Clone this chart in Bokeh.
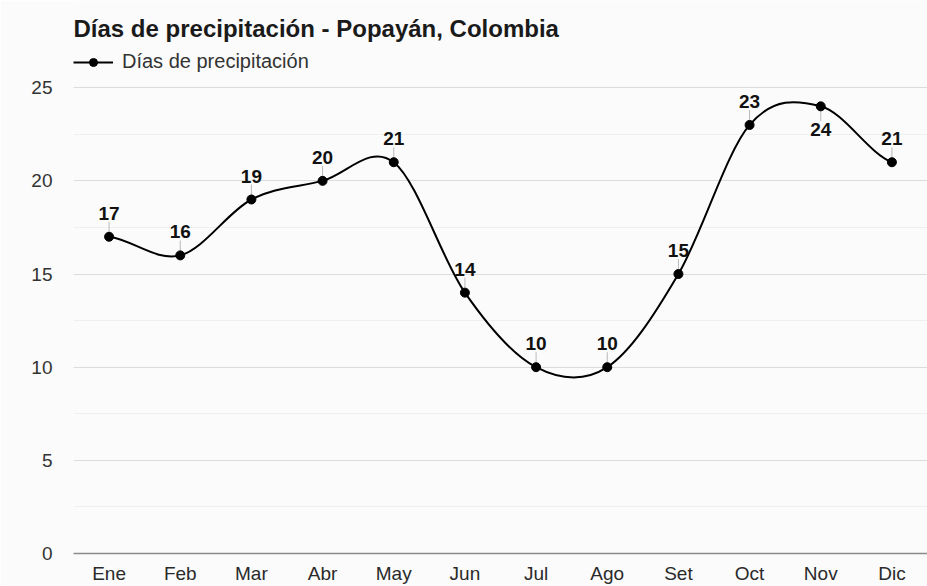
import numpy as np
from bokeh.plotting import figure
from bokeh.models import ColumnDataSource, FixedTicker, Legend, LegendItem, Range1d, Label
from bokeh.core.properties import value
from bokeh.embed import file_html
from bokeh.resources import INLINE

months = ["Ene", "Feb", "Mar", "Abr", "May", "Jun", "Jul", "Ago", "Set", "Oct", "Nov", "Dic"]
days = [17, 16, 19, 20, 21, 14, 10, 10, 15, 23, 24, 21]
y_ticks = [0, 5, 10, 15, 20, 25]
y_minor = [2.5, 7.5, 12.5, 17.5, 22.5]
labels_below = ["Nov"]
title_text = "Días de precipitación - Popayán, Colombia"
series_name = "Días de precipitación"

FONT = "Liberation Sans"
BG = "#fafbfa"

# layout: frame spans from canvas top to the x axis; 25 sits 87px from the top
Y_TOP = 29.68          # range end so that the area above 25 holds title + legend
TITLE_Y = 28.2         # position of the title, in axis units

x = np.arange(len(months), dtype=float)
y = np.array(days, dtype=float)

# Catmull-Rom tangents -> cubic bezier control points for the smoothed line
m = np.empty_like(y)
m[1:-1] = (y[2:] - y[:-2]) / 2.0
m[0] = (y[1] - y[0]) / 2.0
m[-1] = (y[-1] - y[-2]) / 2.0
bez = ColumnDataSource(dict(
    x0=x[:-1], y0=y[:-1], x1=x[1:], y1=y[1:],
    cx0=x[:-1] + 1 / 3, cy0=y[:-1] + m[:-1] / 3,
    cx1=x[1:] - 1 / 3, cy1=y[1:] - m[1:] / 3,
))

below = np.array([mo in labels_below for mo in months])
lead = 0.8
src = ColumnDataSource(dict(x=x, y=y, ly=np.where(below, y - lead, y + lead)))
src_up = ColumnDataSource(dict(x=x[~below], ly=(y + lead)[~below],
                               txt=[str(d) for d, b in zip(days, below) if not b]))
src_dn = ColumnDataSource(dict(x=x[below], ly=(y - lead)[below],
                               txt=[str(d) for d, b in zip(days, below) if b]))

p = figure(width=927, height=586, output_backend="svg", toolbar_location=None,
           x_range=Range1d(-0.5, len(months) - 0.5), y_range=Range1d(0, Y_TOP),
           min_border_left=73, min_border_right=0, min_border_bottom=33, min_border_top=0)
p.background_fill_color = BG
p.border_fill_color = BG
p.outline_line_color = None

# axes
p.xaxis.ticker = FixedTicker(ticks=list(x))
p.xaxis.major_label_overrides = {float(i): mo for i, mo in enumerate(months)}
p.xaxis.major_label_overrides.update({int(i): mo for i, mo in enumerate(months)})
p.xaxis.axis_line_color = "#8a8a8a"
p.xaxis.axis_line_width = 1.5
p.xaxis.major_tick_line_color = None
p.xaxis.minor_tick_line_color = None
p.xaxis.major_label_text_font = FONT
p.xaxis.major_label_text_font_size = "19px"
p.xaxis.major_label_text_color = "#2a2a2a"
p.xaxis.major_label_standoff = 3

p.yaxis.ticker = FixedTicker(ticks=y_ticks, minor_ticks=y_minor)
p.yaxis.axis_line_color = None
p.yaxis.major_tick_line_color = None
p.yaxis.minor_tick_line_color = None
p.yaxis.major_label_text_font = FONT
p.yaxis.major_label_text_font_size = "19px"
p.yaxis.major_label_text_color = "#333333"
p.yaxis.major_label_standoff = 15

p.xgrid.grid_line_color = None
p.ygrid.ticker = FixedTicker(ticks=y_ticks, minor_ticks=y_minor)
p.ygrid.grid_line_color = "#dcdcdc"
p.ygrid.minor_grid_line_color = "#efefef"

# smoothed line
line_r = p.bezier(x0="x0", y0="y0", x1="x1", y1="y1", cx0="cx0", cy0="cy0", cx1="cx1",
                  cy1="cy1", source=bez, line_color="black", line_width=2)

# leader lines
p.segment(x0="x", y0="y", x1="x", y1="ly", source=src, line_color="#b8b8b8", line_width=1)

# markers
pts = p.scatter(x="x", y="y", source=src, size=9, fill_color="black", line_color="black")

# data labels
p.text(x="x", y="ly", text="txt", source=src_up, text_align="center", text_baseline="bottom",
       y_offset=-2, text_font=value(FONT), text_font_size="19px", text_font_style="bold",
       text_color="#111111")
p.text(x="x", y="ly", text="txt", source=src_dn, text_align="center", text_baseline="top",
       y_offset=2, text_font=value(FONT), text_font_size="19px", text_font_style="bold",
       text_color="#111111")

# title
p.add_layout(Label(x=-0.5, y=TITLE_Y, text=title_text, text_font=FONT, text_font_size="24px",
                   text_font_style="bold", text_color="#1a1a1a", text_baseline="alphabetic"))

# legend (top-left of the frame, above the 25 gridline)
legend_line = p.line(x=x[:1], y=y[:1], line_color="black", line_width=2)
legend = Legend(items=[LegendItem(label=series_name, renderers=[legend_line, pts])],
                location=(0, 480), orientation="horizontal",
                glyph_width=40, glyph_height=20, label_height=20, label_standoff=9,
                padding=0, margin=0, spacing=0,
                border_line_color=None, background_fill_alpha=0,
                label_text_font=FONT, label_text_font_size="20px", label_text_color="#333333")
p.add_layout(legend)

open("out.html", "w").write(file_html(p, INLINE))
